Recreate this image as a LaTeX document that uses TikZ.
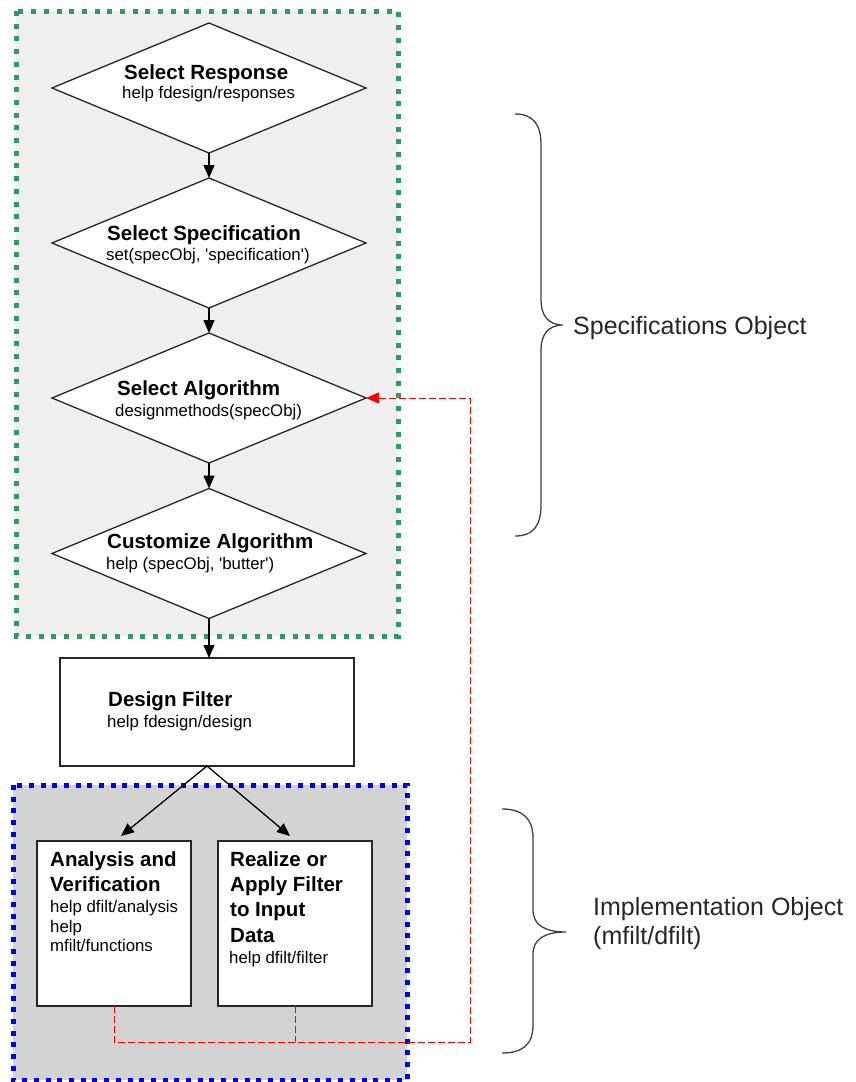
\documentclass[tikz,border=0pt]{standalone}
\usepackage{fontspec}
\setmainfont{Liberation Sans}[Ligatures=TeXOff]
\usetikzlibrary{arrows.meta,shapes.geometric}
\definecolor{grnbox}{HTML}{2E9A64}
\definecolor{grnfill}{HTML}{EFEFEF}
\definecolor{bluefill}{HTML}{D3D3D3}
\tikzset{
  diam/.style={shape=diamond, draw=black!85, line width=1.3pt, fill=white, minimum width=314pt, minimum height=130pt, inner sep=0pt, outer sep=0pt},
  boxn/.style={shape=rectangle, draw=black!85, line width=1.5pt, fill=white, inner sep=0pt, outer sep=0pt},
  arr/.style={draw=black, line width=1.3pt, -{Triangle[length=13pt,width=11pt]}},
  reddash/.style={draw=red, line width=1pt, dash pattern=on 7pt off 3pt},
  ttl/.style={anchor=base west, inner sep=0pt, font=\fontsize{20.5}{24}\selectfont\bfseries},
  sub/.style={anchor=base west, inner sep=0pt, font=\fontsize{16.8}{20}\selectfont},
  lab/.style={anchor=base west, inner sep=0pt, font=\fontsize{25}{30}\selectfont, text=black!85},
  brace/.style={draw=black!75, line width=1.3pt}
}
\begin{document}
\begin{tikzpicture}[x=1pt,y=-1pt]
\useasboundingbox (0,0) rectangle (856,1082);
% group backgrounds
\fill[grnfill] (16,11) rectangle (398,636);
\draw[grnbox, line width=5pt, dash pattern=on 5pt off 7.7pt] (16,11) rectangle (398,636);
\fill[bluefill] (13,785) rectangle (407,1080);
\draw[blue, line width=5pt, dash pattern=on 5pt off 6.7pt] (13,785) rectangle (407,1080);

% diamonds
\node[diam] (d1) at (209,88) {};
\node[diam] (d2) at (209,243) {};
\node[diam] (d3) at (209,398) {};
\node[diam] (d4) at (209,553.5) {};
% boxes
\node[boxn, minimum width=294pt, minimum height=108pt] (df) at (207,712) {};
\node[boxn, minimum width=154pt, minimum height=165pt] (an) at (114,923.5) {};
\node[boxn, minimum width=154pt, minimum height=165pt] (re) at (295,923.5) {};

% texts
\node[ttl] (t1) at (124,79) {Select Response};
\node[sub] (s1) at (122,98) {help fdesign/responses};
\node[ttl] (t2) at (107,240) {Select Specification};
\node[sub] (s2) at (106,260) {set(specObj, 'specification')};
\node[ttl] (t3) at (117,395) {Select Algorithm};
\node[sub] (s3) at (115,416) {designmethods(specObj)};
\node[ttl] (t4) at (107,548) {Customize Algorithm};
\node[sub] (s4) at (106,569) {help (specObj, 'butter')};
\node[ttl] (t5) at (108,706) {Design Filter};
\node[sub] (s5) at (107,727) {help fdesign/design};

\node[ttl] (a1) at (50,866) {Analysis and};
\node[ttl] (a2) at (50,891) {Verification};
\node[sub] (a3) at (50,912) {help dfilt/analysis};
\node[sub] (a4) at (50,932) {help};
\node[sub] (a5) at (50,951) {mfilt/functions};

\node[ttl] (r1) at (230,866) {Realize or};
\node[ttl] (r2) at (230,891) {Apply Filter};
\node[ttl] (r3) at (230,916) {to Input};
\node[ttl] (r4) at (230,942) {Data};
\node[sub] (r5) at (229,963) {help dfilt/filter};

% flow arrows
\draw[arr] (d1.south) -- (d2.north);
\draw[arr] (d2.south) -- (d3.north);
\draw[arr] (d3.south) -- (d4.north);
\draw[arr] (d4.south) -- (d4.south |- df.north);
\draw[arr] (df.south) -- ([xshift=7pt,yshift=5pt]an.north);
\draw[arr] (df.south) -- ([xshift=-5pt,yshift=5pt]re.north);

% feedback
\coordinate (rc) at (470,1042);
\draw[reddash, -{Triangle[length=13pt,width=11pt,fill=red]}] (an.south) |- (rc) |- (d3.east);
\draw[reddash] (re.south) -- (re.south |- rc);

% braces
\draw[brace] (515,114) .. controls (533,114) and (541,124) .. (541,145)
  -- (541,300) .. controls (541,315) and (548,325) .. (563,325)
  .. controls (548,325) and (541,335) .. (541,350)
  -- (541,505) .. controls (541,526) and (533,536) .. (515,536);
\node[lab] (spec) at (573,334) {Specifications Object};

\draw[brace] (502,809) .. controls (522,809) and (533,818) .. (533,838)
  -- (533,910) .. controls (533,925) and (545,932) .. (566,932)
  .. controls (545,932) and (533,939) .. (533,954)
  -- (533,1025) .. controls (533,1045) and (522,1053) .. (502,1053);
\node[lab] (impl1) at (593,915) {Implementation Object};
\node[lab] (impl2) at (593,944) {(mfilt/dfilt)};
\end{tikzpicture}
\end{document}
